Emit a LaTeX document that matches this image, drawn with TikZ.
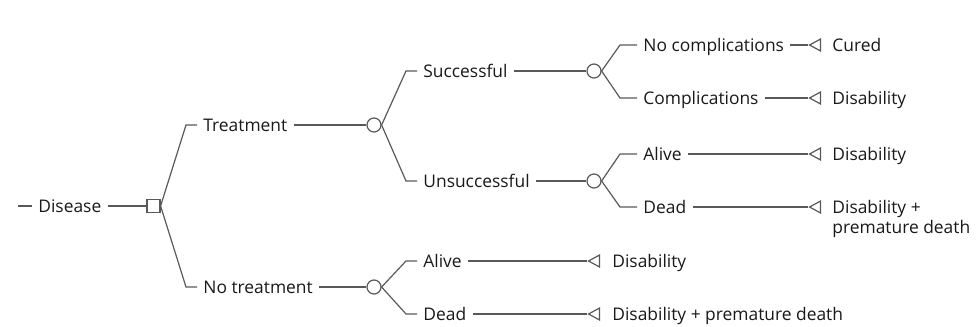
\documentclass[tikz,border=0pt]{standalone}
\usepackage{fontspec}
\setmainfont{Open Sans}
\usetikzlibrary{positioning,shapes.geometric}

\begin{document}
\begin{tikzpicture}[
  x=0.5pt, y=-0.5pt,
  font=\fontsize{8.7}{10}\selectfont,
  every node/.style={text=black!90},
  lbl/.style={anchor=west, inner xsep=3pt, inner ysep=0pt, text height=6.3pt, text depth=0pt},
  outc/.style={anchor=base west, inner sep=0pt, align=left},
  decision/.style={draw=black!65, rectangle, minimum size=6.5pt, inner sep=0pt, fill=white, line width=0.6pt},
  chance/.style={draw=black!65, circle, minimum size=7pt, inner sep=0pt, fill=white, line width=0.6pt},
  endtri/.style={draw=black!65, isosceles triangle, isosceles triangle stretches,
                 shape border rotate=180, minimum height=5.5pt, minimum width=6pt,
                 inner sep=0pt, anchor=apex, line width=0.6pt},
  edge/.style={draw=black!65, line width=0.6pt},
]
\useasboundingbox (0,0) rectangle (978,326);

% ===== root =====
\coordinate (start) at (18,206);
\node[lbl] (dis) at (32,206) {Disease};
\node[decision] (dec) at (153.5,206) {};

% ===== treatment arm =====
\node[lbl] (trt) at (197,125) {Treatment};
\node[chance] (c1) at (374,125) {};
\node[lbl] (succ) at (417,71) {Successful};
\node[chance] (c3) at (594,71) {};
\node[lbl] (unsucc) at (417,181) {Unsuccessful};
\node[chance] (c4) at (594,181) {};

\node[lbl] (nocomp) at (637,45) {No complications};
\node[endtri] (t1) at (808,45) {};
\node[outc] (o1) at (832,51.5) {Cured};
\node[lbl] (comp) at (637,98) {Complications};
\node[endtri] (t2) at (808,98) {};
\node[outc] (o2) at (832,104.5) {Disability};

\node[lbl] (alive1) at (637,154) {Alive};
\node[endtri] (t3) at (808,154) {};
\node[outc] (o3) at (832,160.5) {Disability};
\node[lbl] (dead1) at (637,207) {Dead};
\node[endtri] (t4) at (808,207) {};
\node[outc] (o4) at (832,233.5) {Disability +\\premature death};

% ===== no treatment arm =====
\node[lbl] (notrt) at (197,287) {No treatment};
\node[chance] (c2) at (374,287) {};
\node[lbl] (alive2) at (417,261) {Alive};
\node[endtri] (t5) at (587,261) {};
\node[outc] (o5) at (612,267.5) {Disability};
\node[lbl] (dead2) at (417,314) {Dead};
\node[endtri] (t6) at (587,314) {};
\node[outc] (o6) at (612,320.5) {Disability + premature death};

% ===== connectors =====
\draw[edge] (start) -- (dis);
\draw[edge] (dis) -- (dec);
\draw[edge] (dec.east) -- ([xshift=-5.5pt]trt.west) -- (trt.west);
\draw[edge] (dec.east) -- ([xshift=-5.5pt]notrt.west) -- (notrt.west);
\draw[edge] (trt) -- (c1);
\draw[edge] (notrt) -- (c2);

\draw[edge] (c1.east) -- ([xshift=-5.5pt]succ.west) -- (succ.west);
\draw[edge] (c1.east) -- ([xshift=-5.5pt]unsucc.west) -- (unsucc.west);
\draw[edge] (succ) -- (c3);
\draw[edge] (unsucc) -- (c4);

\draw[edge] (c3.east) -- ([xshift=-8.5pt]nocomp.west) -- (nocomp.west);
\draw[edge] (c3.east) -- ([xshift=-8.5pt]comp.west) -- (comp.west);
\draw[edge] (nocomp) -- (t1);
\draw[edge] (comp) -- (t2);

\draw[edge] (c4.east) -- ([xshift=-8.5pt]alive1.west) -- (alive1.west);
\draw[edge] (c4.east) -- ([xshift=-8.5pt]dead1.west) -- (dead1.west);
\draw[edge] (alive1) -- (t3);
\draw[edge] (dead1) -- (t4);

\draw[edge] (c2.east) -- ([xshift=-5.5pt]alive2.west) -- (alive2.west);
\draw[edge] (c2.east) -- ([xshift=-5.5pt]dead2.west) -- (dead2.west);
\draw[edge] (alive2) -- (t5);
\draw[edge] (dead2) -- (t6);
\end{tikzpicture}
\end{document}
